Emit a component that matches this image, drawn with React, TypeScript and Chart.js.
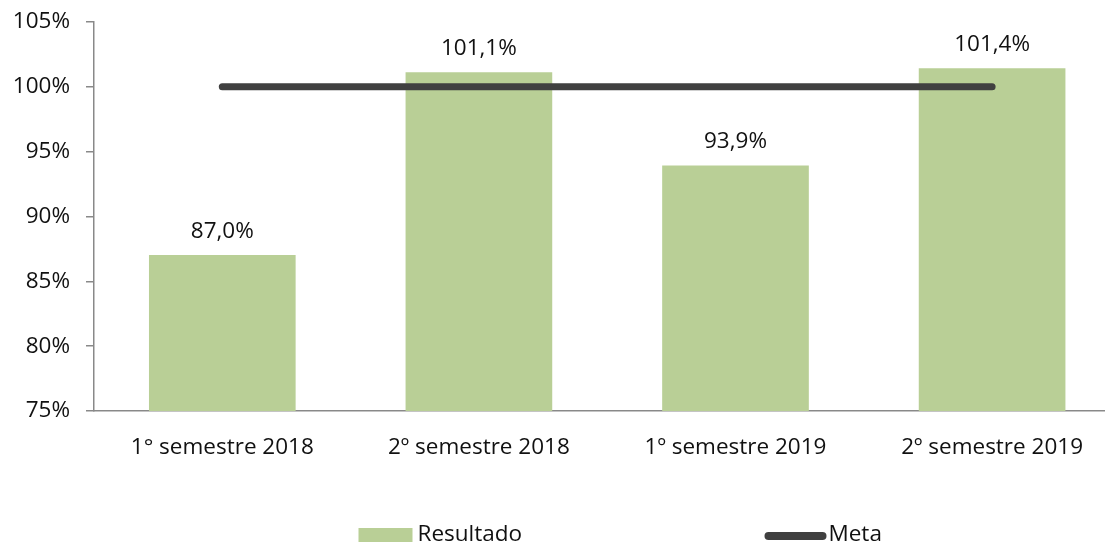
import React, { useEffect, useRef } from "react";
import { Chart, registerables } from "chart.js";

Chart.register(...registerables);

const categories = ["1° semestre 2018", "2º semestre 2018", "1º semestre 2019", "2º semestre 2019"];
const resultado = [87.0, 101.1, 93.9, 101.4];
const meta = [100, 100, 100, 100];
const yTicks = [75, 80, 85, 90, 95, 100, 105];

const FONT = "Open Sans";
const FSIZE = 22.5;
const GREEN = "#b9cf96";
const DARK = "#404040";
const AXIS = "#898989";
const TEXT = "#111111";

const valueLabels = {
  id: "valueLabels",
  afterDatasetsDraw(chart: any) {
    const barMeta = chart.getDatasetMeta(1);
    const ctx = chart.ctx;
    ctx.save();
    ctx.font = `${FSIZE}px "${FONT}"`;
    ctx.fillStyle = TEXT;
    ctx.textAlign = "center";
    ctx.textBaseline = "bottom";
    barMeta.data.forEach((bar: any, i: number) => {
      const v = resultado[i];
      ctx.fillText(v.toFixed(1).replace(".", ",") + "%", bar.x, bar.y - 13);
    });
    ctx.restore();
  },
};

const customLegend = {
  id: "customLegend",
  afterDraw(chart: any) {
    const ctx = chart.ctx;
    const cx = chart.width / 2;
    const y = 535;
    ctx.save();
    ctx.font = `${FSIZE}px "${FONT}"`;
    ctx.fillStyle = TEXT;
    ctx.textBaseline = "middle";
    ctx.textAlign = "left";
    // Resultado
    const bx = cx - 194;
    ctx.fillStyle = GREEN;
    ctx.fillRect(bx, y - 7, 54, 14);
    ctx.fillStyle = TEXT;
    ctx.fillText("Resultado", bx + 59, y);
    // Meta
    const mx = cx + 216;
    ctx.strokeStyle = DARK;
    ctx.lineWidth = 8;
    ctx.lineCap = "round";
    ctx.beginPath();
    ctx.moveTo(mx, y + 1);
    ctx.lineTo(mx + 54, y + 1);
    ctx.stroke();
    ctx.fillText("Meta", mx + 60, y);
    ctx.restore();
  },
};

export default function App() {
  const ref = useRef<HTMLCanvasElement>(null);

  useEffect(() => {
    document.body.style.margin = "0";
    const canvas = ref.current!;
    const chart = new Chart(canvas, {
      type: "bar",
      data: {
        datasets: [
          {
            type: "line",
            label: "Meta",
            data: meta.map((v, i) => ({ x: i, y: v })),
            borderColor: DARK,
            backgroundColor: DARK,
            borderWidth: 7,
            borderCapStyle: "round",
            pointRadius: 0,
            order: 0,
          } as any,
          {
            type: "bar",
            label: "Resultado",
            data: resultado.map((v, i) => ({ x: i, y: v })),
            backgroundColor: GREEN,
            barThickness: 146,
            order: 1,
          } as any,
        ],
      },
      options: {
        animation: false,
        responsive: false,
        maintainAspectRatio: false,
        layout: { padding: { top: 22, right: 0, left: 0, bottom: 0 } },
        plugins: {
          legend: { display: false },
          tooltip: { enabled: false },
        },
        scales: {
          x: {
            type: "linear",
            offset: false,
            bounds: "data",
            min: -0.5,
            max: 3.44,
            grid: { display: false, drawTicks: false, offset: false },
            border: { display: true, color: AXIS, width: 1.5 },
            afterBuildTicks(scale: any) {
              scale.ticks = categories.map((_, i) => ({ value: i }));
            },
            afterFit(scale: any) {
              scale.height = 133;
              scale.paddingLeft = 0;
              scale.paddingRight = 0;
            },
            ticks: {
              autoSkip: false,
              maxRotation: 0,
              padding: 23,
              color: TEXT,
              font: { family: FONT, size: FSIZE },
              callback: (v: any) => categories[Math.round(Number(v))] ?? "",
            },
          } as any,
          y: {
            type: "linear",
            min: 75,
            max: 105,
            afterBuildTicks(scale: any) {
              scale.ticks = yTicks.map((v) => ({ value: v }));
            },
            afterFit(scale: any) {
              scale.width = 94;
              scale.paddingTop = 0;
              scale.paddingBottom = 0;
            },
            grid: {
              drawOnChartArea: false,
              drawTicks: true,
              tickLength: 8,
              color: AXIS,
              lineWidth: 1.5,
            },
            border: { display: true, color: AXIS, width: 1.5 },
            ticks: {
              padding: 16,
              color: TEXT,
              font: { family: FONT, size: FSIZE },
              callback: (v: any) => `${v}%`,
            },
          },
        },
      },
      plugins: [valueLabels, customLegend],
    });
    return () => chart.destroy();
  }, []);

  return (
    <div style={{ width: 1105, height: 544 }}>
      <canvas ref={ref} width={1105} height={544} style={{ display: "block" }} />
    </div>
  );
}
